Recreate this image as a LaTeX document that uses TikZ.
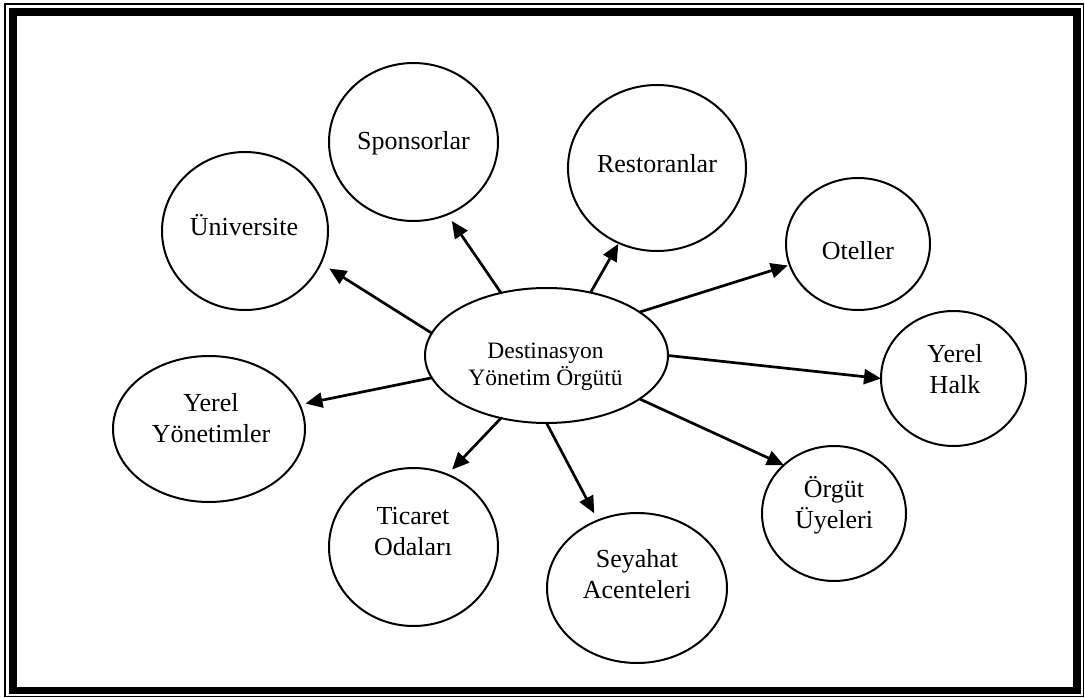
\documentclass[tikz,border=0pt]{standalone}
\usepackage{fontspec}
\setmainfont{Liberation Serif}
\usetikzlibrary{shapes.geometric,arrows.meta}

\tikzset{
  bub/.style={ellipse, draw, line width=2pt, inner sep=0pt, outer sep=0pt},
  % labels are anchored at the baseline of their last line
  lbl/.style={anchor=base, align=center, inner sep=0pt,
              font=\fontsize{26}{30.5}\selectfont},
  midlbl/.style={anchor=base, align=center, inner sep=0pt,
              font=\fontsize{23.5}{26.5}\selectfont},
  arr/.style={line width=2.7pt, -{Triangle[length=17pt,width=15pt]}}
}

\begin{document}
\begin{tikzpicture}[x=1pt, y=-1pt]
\useasboundingbox (0,0) rectangle (1085,698);

% double frame: thin outer line, thick inner line
\draw[line width=1.2pt] (5,4) rectangle (1083.5,696.5);
\draw[line width=7.5pt] (13,11.8) rectangle (1077,690.5);

% central organisation
\node[bub, minimum width=243pt, minimum height=135pt] (dyo) at (546.5,355.5) {};
\node[midlbl] (dyo-t) at (545.5,385) {Destinasyon\\Yönetim Örgütü};

% stakeholders
\node[bub, minimum width=166pt, minimum height=158pt] (univ) at (245,231) {};
\node[lbl] (univ-t) at (244,235) {Üniversite};

\node[bub, minimum width=169pt, minimum height=158pt] (spons) at (413.5,142) {};
\node[lbl] (spons-t) at (413.5,150) {Sponsorlar};

\node[bub, minimum width=178pt, minimum height=166pt] (rest) at (657,168) {};
\node[lbl] (rest-t) at (657,173) {Restoranlar};

\node[bub, minimum width=144pt, minimum height=132pt] (otel) at (858,244) {};
\node[lbl] (otel-t) at (858,259) {Oteller};

\node[bub, minimum width=145pt, minimum height=135pt] (halk) at (953.5,378.5) {};
\node[lbl] (halk-t) at (955,393) {Yerel\\Halk};

\node[bub, minimum width=144pt, minimum height=135pt] (uye) at (834,513.5) {};
\node[lbl] (uye-t) at (834,528) {Örgüt\\Üyeleri};

\node[bub, minimum width=180pt, minimum height=150pt] (acente) at (637,588) {};
\node[lbl] (acente-t) at (637,598) {Seyahat\\Acenteleri};

\node[bub, minimum width=169pt, minimum height=158pt] (oda) at (413.5,547) {};
\node[lbl] (oda-t) at (413,555) {Ticaret\\Odaları};

\node[bub, minimum width=192pt, minimum height=146pt] (yonet) at (209,429) {};
\node[lbl] (yonet-t) at (211,442) {Yerel\\Yönetimler};

% relations
\draw[arr, shorten >=10pt] (dyo.169) -- (univ.-23);
\draw[arr, shorten >=8pt]  (dyo.126) -- (spons.-65);
\draw[arr, shorten >=1pt]  (dyo.55)  -- (rest.-117);
\draw[arr, shorten >=2pt]  (dyo.25)  -- (otel.-163);
\draw[arr]                 (dyo.0)   -- (halk.180);
\draw[arr]                 (dyo.-25) -- (uye.136.5);
\draw[arr, shorten >=8pt]  (dyo.-90) -- (acente.120);
\draw[arr, shorten >=7pt]  (dyo.234) -- (oda.65);
\draw[arr, shorten >=6pt]  (dyo.191) -- (yonet.15.6);
\end{tikzpicture}
\end{document}
